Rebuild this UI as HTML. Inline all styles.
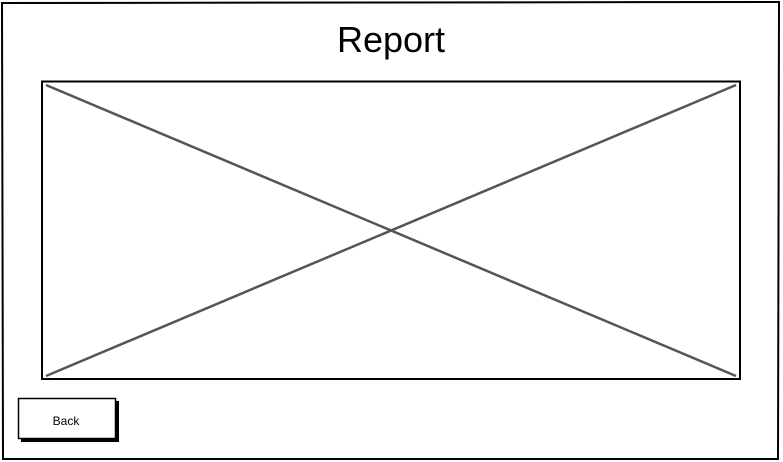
<!DOCTYPE html>
<html><head><meta charset="utf-8"><style>
html,body{margin:0;padding:0;background:#fff;}
body{width:783px;height:462px;position:relative;overflow:hidden;font-family:"Liberation Sans",sans-serif;}
</style></head><body>
<svg width="783" height="462" style="position:absolute;left:0;top:0">
<path d="M2,3 L779,2 L778,459 L3,459 Z" fill="none" stroke="#000" stroke-width="2"/>
<text x="391" y="52" text-anchor="middle" font-size="36" font-family="Liberation Sans, sans-serif" fill="#000">Report</text>
<g>
<rect x="42" y="81.5" width="698" height="297.5" fill="#fff" stroke="#000" stroke-width="2"/>
<line x1="46" y1="85" x2="736" y2="376" stroke="#555" stroke-width="2.5"/>
<line x1="736" y1="85" x2="46" y2="376" stroke="#555" stroke-width="2.5"/>
</g>
<g>
<rect x="21" y="401" width="98" height="41" fill="#000"/>
<rect x="18.5" y="398.5" width="97" height="40" fill="#fff" stroke="#000" stroke-width="1.5"/>
<text x="66" y="425" text-anchor="middle" font-size="12" fill="#000">Back</text>
</g>
</svg>
</body></html>
